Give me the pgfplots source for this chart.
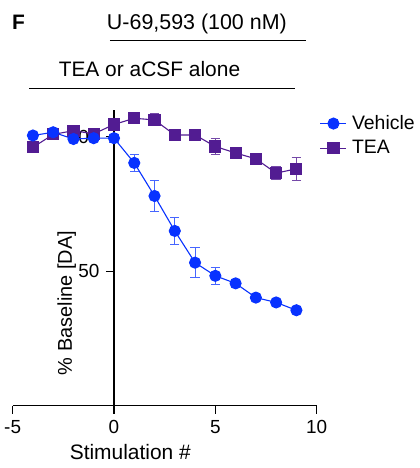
\documentclass[border=0pt]{standalone}
\usepackage{fontspec}
\setmainfont{Liberation Sans}
\usepackage{pgfplots}
\pgfplotsset{compat=1.18}
\definecolor{veh}{RGB}{8,50,255}
\definecolor{tea}{RGB}{82,28,146}

\begin{document}
\fontsize{19}{22}\selectfont
\begin{tikzpicture}
\begin{axis}[
  set layers,
  scale only axis, width=304bp, height=295.7bp,
  xmin=-5, xmax=10, ymin=0, ymax=110,
  clip=false,
  axis lines=center, axis line style={-, line width=1.1bp, black},
  hide obscured x ticks=false, hide obscured y ticks=false,
  xtick={-5,0,5,10}, ytick={0,50,100}, yticklabels={,50,100},
  tick align=outside, major tick length=8bp,
  tick style={line width=1.1bp, black},
  /pgf/number format/assume math mode=true,
  tick label style={font=\fontsize{19}{22}\selectfont},
  legend cell align=left,
  reverse legend,
  legend style={draw=none, fill=none, at={(axis description cs:1.01,0.99)}, anchor=north west,
    font=\fontsize{19.5}{22}\selectfont, row sep=4bp, inner sep=0pt,
    /tikz/every odd column/.append style={column sep=3bp}},
  legend image code/.code={\draw[mark repeat=2,mark phase=2,#1] plot coordinates {(0bp,0bp)(13bp,0bp)(26bp,0bp)};},
  error bars/y dir=both, error bars/y explicit,
]
\addplot[color=tea, line width=1.1bp, mark=square*, mark size=5.5bp, mark options={solid, fill=tea},
  error bars/error bar style={line width=1bp, tea!80},
  error bars/error mark options={line width=1bp, tea!80, mark size=4.7bp, rotate=90}]
  table[x=x, y=y, y error=e] {
x y e
-4 96.1 0.5
-3 100.9 0.5
-2 102.3 0.5
-1 101.1 0.5
0 104.6 0.8
1 106.9 0.8
2 106.3 2.2
3 100.7 0.8
4 100.7 0.8
5 96.4 3.0
6 94.0 0.8
7 91.8 2.0
8 86.5 2.5
9 88.1 4.3
};
\addlegendentry{TEA}
\addplot[color=veh, line width=1.1bp, mark=*, mark size=5.5bp, mark options={solid, fill=veh},
  error bars/error bar style={line width=1bp, veh!75},
  error bars/error mark options={line width=1bp, veh!75, mark size=4.7bp, rotate=90}]
  table[x=x, y=y, y error=e] {
x y e
-4 100.5 0
-3 101.7 0
-2 99.2 0.5
-1 99.5 0
0 99.5 1.5
1 90.3 3.1
2 78.0 5.7
3 65.0 4.9
4 53.2 5.6
5 48.3 3.2
6 45.5 0.8
7 40.2 0.8
8 38.4 0.8
9 35.5 0.8
};
\addlegendentry{Vehicle}

% labels
\node[anchor=base, font=\fontsize{21}{24}\selectfont] at (axis description cs:0.387,-0.1836) {Stimulation \#};
\node[anchor=center, rotate=90, font=\fontsize{20}{24}\selectfont] at (axis description cs:0.178,0.347) {\% Baseline [DA]};

% treatment bars above the plot
\node[anchor=base, font=\bfseries\fontsize{21}{24}\selectfont] at (axis cs:-4.71,139.8) {F};
\node[anchor=base, font=\fontsize{21.5}{24}\selectfont] at (axis cs:4.09,140.0) {U-69,593 (100 nM)};
\draw[line width=1.1bp] (axis cs:-0.2,136.0) -- (axis cs:9.475,136.0);
\node[anchor=base, font=\fontsize{21}{24}\selectfont] at (axis cs:1.75,122.4) {TEA or aCSF alone};
\draw[line width=1.1bp] (axis cs:-4.19,118.1) -- (axis cs:8.93,118.1);

\coordinate (bl) at (axis cs:-5.624,-23.18);
\coordinate (tr) at (axis cs:15.096,150.9);
\end{axis}
\pgfresetboundingbox
\path (bl) rectangle (tr);
\end{tikzpicture}
\end{document}
